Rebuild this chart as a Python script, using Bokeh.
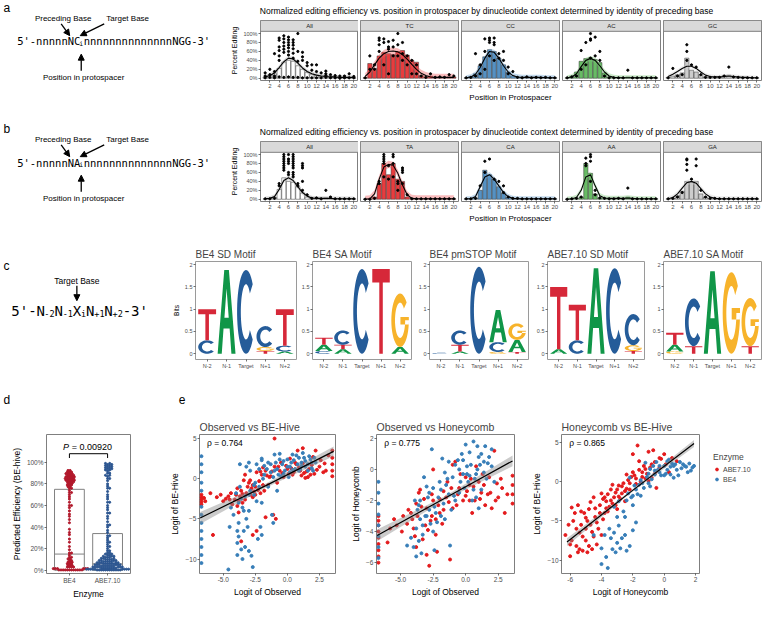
import numpy as np
from bokeh.plotting import figure
from bokeh.layouts import row, column
from bokeh.models import Range1d, FixedTicker, Arrow, NormalHead, Legend, LegendItem
from bokeh.core.properties import value
from bokeh.embed import file_html
from bokeh.resources import INLINE

FONT = "Liberation Sans"
MONO = "DejaVu Sans Mono"
BORDER = "#7F7F7F"
TICKC = "#4D4D4D"
RED = "#E41A1C"
BLUE = "#377EB8"

# ======================= DATA =======================
POSITIONS = list(range(1, 21))
POS_TICKS = list(range(2, 21, 2))
PCT_TICKS = [0, 20, 40, 60, 80, 100]
FACET_TITLE = ("Normalized editing efficiency vs. position in protospacer by dinucleotide "
               "context determined by identity of preceding base")

A_LABELS = ["All", "TC", "CC", "AC", "GC"]
B_LABELS = ["All", "TA", "CA", "AA", "GA"]
FACET_FILL = ["#FFFFFF", "#E41A1C", "#377EB8", "#4DAF4A", "#C4C4C4"]
FACET_RIB = ["#A8A8A8", "#F0585A", "#6A9FD0", "#7CC87A", "#D0D0D0"]

# mean editing (%) per protospacer position 1..20
A_ALL_BAR = [3, 6, 10, 22, 36, 40, 38, 28, 20, 13, 9, 7, 5, 6, 4, 3, 2, 2, 2, 1]
A_TC_BAR = [1, 33, 22, 50, 58, 55, 53, 60, 62, 52, 40, 36, 6, 3, 5, 2, 3, 2, 3, 3]
A_CC_BAR = [1, 4, 10, 28, 48, 64, 60, 45, 30, 14, 5, 3, 2, 3, 2, 2, 2, 2, 1, 1]
A_AC_BAR = [1, 5, 14, 38, 44, 46, 42, 35, 12, 3, 2, 2, 1, 3, 2, 1, 1, 1, 1, 1]
A_GC_BAR = [2, 5, 8, 12, 45, 18, 14, 8, 3, 3, 3, 3, 6, 7, 4, 3, 2, 2, 1, 1]
# smoothed fit (%) per position
A_ALL_FIT = [3, 6, 12, 24, 37, 45, 43, 34, 23, 15, 10, 7, 5, 4, 3, 3, 2, 2, 2, 2]
A_TC_FIT = [4, 14, 30, 45, 55, 60, 61, 59, 53, 43, 31, 20, 11, 6, 3, 2, 2, 2, 2, 2]
A_CC_FIT = [1, 3, 9, 24, 45, 60, 58, 45, 28, 14, 6, 3, 2, 2, 2, 2, 2, 1, 1, 1]
A_AC_FIT = [1, 3, 10, 26, 40, 44, 40, 28, 14, 5, 2, 1, 1, 1, 1, 1, 1, 1, 1, 1]
A_GC_FIT = [4, 9, 15, 22, 27, 27, 22, 14, 7, 4, 3, 3, 4, 5, 4, 3, 2, 2, 1, 1]
A_HW = [5, 8, 6, 6, 5]
# individual observations (%) per position
A_ALL_PTS = [[1, 5, 12], [2, 8, 20], [1, 5, 15, 55], [3, 40, 50, 62, 70, 85, 90], [2, 58, 65, 72, 80, 88, 95],
             [3, 52, 60, 68, 74, 80, 86, 92], [2, 45, 56, 66, 74, 80, 86], [2, 38, 60, 100], [1, 40, 48, 58],
             [1, 28, 35], [1, 18, 30], [1, 15, 30], [1, 12], [2, 6, 10, 16], [1, 8], [1, 6], [0, 5], [1, 5], [1, 10], [1, 4]]
A_TC_PTS = [[1], [20, 50], [20, 30], [60, 75, 85, 90], [30, 80, 88], [10, 65, 70, 82], [50, 70, 85], [50, 75, 100],
            [40, 55, 80], [30, 50], [10, 40], [10, 30], [5], [2], [10], [2], [3], [2], [8], [5]]
A_CC_PTS = [[1], [2], [5, 55], [10, 30], [20, 60, 88], [50, 80, 85, 90], [40, 75, 80, 90], [45, 55], [40, 60],
            [10, 25], [15], [2], [1], [3], [1], [2], [1], [2], [1], [1]]
A_AC_PTS = [[1], [3], [5], [20, 62], [30, 80], [45, 85, 88, 100], [50, 92], [40, 60], [5], [1], [1], [1], [1],
            [18], [1], [1], [1], [1], [1], [1]]
A_GC_PTS = [[1], [22], [5], [8], [40, 60, 75], [30], [25], [8], [2], [2], [2], [2], [5], [25], [3], [2], [1],
            [1], [1], [1]]

B_ALL_BAR = [1, 2, 4, 22, 48, 40, 38, 28, 14, 5, 3, 3, 2, 3, 2, 1, 1, 1, 1, 1]
B_TA_BAR = [0, 1, 5, 35, 80, 55, 80, 45, 40, 5, 2, 1, 1, 1, 1, 1, 1, 1, 1, 1]
B_CA_BAR = [1, 1, 3, 20, 65, 55, 45, 28, 14, 4, 2, 2, 1, 1, 1, 1, 1, 1, 1, 1]
B_AA_BAR = [0, 1, 2, 5, 80, 58, 12, 3, 2, 2, 1, 2, 1, 5, 1, 1, 1, 1, 1, 1]
B_GA_BAR = [1, 2, 8, 18, 40, 38, 40, 12, 5, 2, 2, 1, 1, 1, 1, 1, 1, 1, 1, 1]
B_ALL_FIT = [1, 2, 6, 22, 42, 48, 42, 28, 15, 7, 3, 2, 2, 2, 2, 1, 1, 1, 1, 1]
B_TA_FIT = [0, 1, 12, 45, 72, 78, 76, 58, 32, 10, 2, 1, 1, 1, 1, 1, 1, 1, 1, 1]
B_CA_FIT = [1, 1, 6, 28, 50, 55, 45, 30, 15, 6, 2, 1, 1, 1, 1, 1, 1, 1, 1, 1]
B_AA_FIT = [0, 1, 4, 20, 50, 55, 30, 8, 3, 2, 2, 2, 2, 3, 2, 1, 1, 1, 1, 1]
B_GA_FIT = [1, 4, 12, 25, 37, 40, 36, 24, 12, 5, 2, 1, 1, 1, 1, 1, 1, 1, 1, 1]
B_HW = [5, 8, 6, 6, 6]
B_ALL_PTS = [[1], [1], [2], [30, 35], [65, 70, 75, 80, 85, 90, 95, 100], [55, 60, 80, 85, 90, 100],
             [50, 55, 60, 70, 75, 80, 85, 90, 95, 100], [30, 35], [20, 40, 70, 75, 80], [10], [2], [3], [1], [20],
             [5], [1], [1], [1], [1], [1]]
B_TA_PTS = [[0], [0], [2], [35, 40], [50, 80, 85, 90, 95, 100], [45, 75], [50, 80, 95, 100], [20, 35, 40],
            [35, 60, 65, 70], [10], [1], [1], [1], [1], [1], [1], [1], [1], [1], [1]]
B_CA_PTS = [[1], [1], [2], [30], [60, 85], [90], [45], [40], [15, 30], [5], [2], [2], [1], [1], [1], [1], [1],
            [1], [1], [1]]
B_AA_PTS = [[0], [1], [2], [5], [75, 80, 92], [40, 85, 95, 100], [10, 20], [3], [2], [1], [1], [2], [1], [25],
            [1], [1], [1], [1], [1], [1]]
B_GA_PTS = [[1], [2], [5], [15], [65, 78, 88, 90], [45], [75, 90], [20], [5], [2], [2], [1], [1], [1], [1], [1],
            [1], [1], [1], [1]]

# sequence logos (bits), stacks bottom -> top
LOGO_TITLES = ["BE4 SD Motif", "BE4 SA Motif", "BE4 pmSTOP Motif", "ABE7.10 SD Motif", "ABE7.10 SA Motif"]
LOGO_POS_LABELS = ["N-2", "N-1", "Target", "N+1", "N+2"]
LOGO_BE4_SD = [[("C", 0.30), ("T", 0.70)], [("A", 1.88)], [("C", 1.88)],
               [("T", 0.06), ("G", 0.09), ("C", 0.47)], [("A", 0.05), ("C", 0.13), ("T", 0.82)]]
LOGO_BE4_SA = [[("C", 0.06), ("A", 0.14), ("T", 0.16)], [("A", 0.10), ("T", 0.10), ("C", 0.32)], [("C", 1.90)],
               [("T", 1.90)], [("A", 0.15), ("G", 1.20)]]
LOGO_BE4_PM = [[("C", 0.02)], [("A", 0.05), ("T", 0.15), ("C", 0.32)], [("C", 1.95)],
               [("G", 0.04), ("C", 0.22), ("A", 0.72)], [("T", 0.04), ("A", 0.27), ("G", 0.37)]]
LOGO_ABE_SD = [[("A", 0.10), ("T", 1.40)], [("C", 0.30), ("T", 0.80)], [("A", 1.92)], [("C", 1.92)],
               [("T", 0.06), ("G", 0.13), ("C", 0.70)]]
LOGO_ABE_SA = [[("G", 0.05), ("A", 0.15), ("T", 0.27)], [("T", 0.17), ("C", 1.07)], [("A", 1.85)],
               [("G", 1.83)], [("T", 0.17), ("G", 1.08)]]
LETTER_COLORS = {"A": "#109648", "C": "#255C99", "G": "#F7B32B", "T": "#D62839"}

# panel d: predicted efficiency (%), value levels and counts of guides
D_ENZYMES = ["BE4", "ABE7.10"]
D_Q1 = [0, 0]
D_MEDIAN = [15, 6]
D_Q3 = [75, 34]
D_BE4_LEVELS = [0.3, 1.5, 3, 4.5, 6, 7.5, 9, 10.5, 12, 14, 16, 19, 22, 26, 29, 33, 35, 38, 44, 47, 50, 52, 55, 58,
                60, 63, 66, 68, 70, 72, 74, 76, 77.5, 79, 80.5, 82, 83.5, 85, 86.5, 88, 89.5, 91, 92.5]
D_BE4_COUNTS = [12, 6, 4, 3, 3, 3, 2, 2, 2, 1, 2, 1, 1, 1, 1, 1, 1, 1, 1, 1, 1, 1, 1, 1,
                2, 1, 1, 1, 1, 2, 1, 2, 2, 3, 3, 4, 5, 5, 5, 4, 4, 3, 2]
D_ABE_LEVELS = [0.3, 1, 2, 3, 4, 5, 6, 7, 8, 9, 10, 11, 12, 13, 14, 15, 16, 18, 20, 22, 24, 26, 28, 30, 32, 35,
                37, 40, 42, 45, 48, 50, 53, 56, 58, 60, 63, 66, 68, 70, 73, 76, 78, 80, 83, 85, 87, 88, 90, 92,
                93, 94, 95, 96, 97, 98, 99]
D_ABE_COUNTS = [12, 9, 8, 7, 7, 6, 6, 5, 5, 4, 4, 3, 3, 3, 2, 2, 2, 2, 1, 2, 1, 2, 1, 1, 2, 1,
                1, 1, 2, 1, 1, 1, 2, 1, 1, 1, 2, 1, 1, 1, 1, 2, 1, 1, 1, 2, 1, 2, 2, 1,
                2, 2, 2, 2, 2, 2, 2]
D_PVALUE = "= 0.00920"

# panel e: (x, y) logits
E1_ABE = [(-6.7, -2.0), (-6.7, -2.3), (-6.7, -2.6), (-6.7, -2.9), (-6.7, -3.2), (-6.5, -2.4), (-6.4, -2.8),
          (-5.8, -7.0), (-5.5, -2.3), (-5.0, -2.8), (-4.8, -2.5), (-4.5, -2.6), (-4.3, -3.2), (-4.0, -2.0),
          (-3.9, -1.2), (-3.8, -2.8), (-3.6, -1.5), (-3.5, -3.0), (-3.4, -0.2), (-3.3, 0.5), (-3.2, -1.8),
          (-3.0, -0.5), (-2.9, -2.0), (-2.8, -1.2), (-2.7, -2.3), (-2.6, -1.6), (-2.5, -1.0), (-2.4, 0.8),
          (-2.2, -0.3), (-2.1, -1.8), (-2.0, 0.5), (-1.9, -0.8), (-1.8, -1.5), (-1.7, 1.0), (-1.5, -0.8),
          (-1.4, 0.2), (-1.3, 0.3), (-1.0, 5.0), (-1.0, 1.5), (-0.8, -0.5), (-0.6, 1.0), (-0.5, 2.0),
          (-0.3, 0.2), (-0.1, 1.6), (0.0, 1.2), (0.2, 2.5), (0.4, 0.5), (0.5, 0.8), (0.7, 1.8), (0.8, 3.5),
          (1.0, 1.0), (1.1, 0.4), (1.2, 3.8), (1.4, 0.1), (1.5, 0.9), (1.7, 1.2), (1.8, 0.5), (2.0, 2.7),
          (2.2, 3.5), (2.5, 1.5), (2.8, 0.8), (3.0, 1.0), (3.5, 3.5), (3.5, 2.6), (3.5, 1.8), (3.5, 1.0),
          (3.5, 0.3), (-2.7, -7.0), (-1.7, -4.8), (-3.8, -4.2), (-1.1, -4.5), (-0.9, -5.0),
          (-4.6, -2.2), (-4.4, -1.8), (-4.1, -2.6), (-3.9, -3.4), (-3.7, -2.2), (-3.5, -1.9), (-3.3, -2.6),
          (-3.1, -1.0), (-2.9, -0.2), (-2.7, -0.8), (-2.5, -2.0), (-2.3, -1.4), (-2.1, 0.9), (-1.9, 1.4),
          (-1.6, 0.4), (-1.2, 0.9), (-0.7, 1.5), (-0.4, 0.7), (0.1, 0.6), (0.3, 1.3), (0.6, 2.0), (0.9, 1.4),
          (1.2, 1.9), (1.3, 0.7), (1.6, 0.2), (1.9, 1.7), (2.1, 0.6), (2.3, 1.1), (2.6, 2.3), (2.9, 1.9),
          (3.2, 2.9), (-5.2, -2.0), (-6.0, -1.8), (-3.6, -7.8), (-2.4, -6.5)]
E1_BE4 = [(-6.7, 2.8), (-6.7, 1.8), (-6.7, 0.8), (-6.7, -0.5), (-6.7, -1.5), (-6.7, -3.5), (-6.7, -4.5),
          (-6.7, -5.5), (-6.7, -6.5), (-6.7, -7.5), (-6.7, -8.5), (-6.7, -9.5), (-6.7, -10.5),
          (-4.6, -11.3), (-4.5, -6.0), (-4.2, -4.5), (-4.0, -1.8), (-3.9, -8.0), (-3.9, -9.5), (-3.8, -5.5),
          (-3.8, -3.0), (-3.7, -1.0), (-3.7, 1.8), (-3.6, -2.5), (-3.5, -10.0), (-3.4, -6.5), (-3.4, -4.0),
          (-3.3, -8.5), (-3.2, -5.0), (-3.2, 1.5), (-3.0, -4.0), (-3.0, -2.0), (-2.9, -1.5), (-2.9, 1.0),
          (-2.7, -11.0), (-2.6, -2.0), (-2.5, -0.5), (-2.4, 1.8), (-2.3, -7.5), (-2.2, -1.0), (-2.1, -6.0),
          (-2.0, -3.0), (-2.0, 2.3), (-1.9, 0.0), (-1.8, 0.5), (-1.6, 1.2), (-1.5, -1.0), (-1.3, 0.8),
          (-1.2, -4.5), (-1.1, -5.5), (-1.0, 1.0), (-0.9, 2.0), (-0.8, -1.5), (-0.7, 0.5), (-0.5, 0.3),
          (-0.4, 1.8), (-0.3, 2.2), (-0.2, 1.0), (0.0, 1.5), (0.1, 0.2), (0.2, 0.8), (0.3, 2.0), (0.5, 2.3),
          (0.6, 1.2), (0.8, 1.8), (0.9, 2.6), (1.0, 1.2), (1.1, 2.0), (1.3, 2.6), (1.4, 1.5), (1.6, 1.8),
          (1.7, 2.8), (1.8, 2.4), (1.9, 1.3), (2.0, 1.0), (2.2, 2.0), (-3.0, 2.0), (-2.0, 2.5), (-1.0, 3.0),
          (-0.6, 3.1), (0.4, 3.0), (1.2, 3.2),
          (-3.9, -6.5), (-3.8, -7.2), (-3.6, -8.8), (-3.5, -3.6), (-3.3, -2.2), (-3.1, -6.0), (-2.8, -9.6),
          (-2.6, -0.8), (-2.4, -2.8), (-2.2, 1.2), (-1.8, 1.6), (-1.5, 2.0), (-1.3, 1.8), (-1.1, 0.2),
          (-0.8, 1.2), (-0.6, 2.4), (-0.3, 0.6), (0.0, 2.4), (0.2, 1.5), (0.4, 1.1), (0.7, 2.9), (0.9, 1.0),
          (1.1, 1.6), (1.4, 2.2), (1.6, 1.0), (1.9, 2.0), (2.1, 2.6), (-4.4, -3.6), (-3.0, -9.0), (-2.0, -7.0)]
E2_ABE = [(-6.7, -3.0), (-6.7, -3.3), (-6.7, -3.6), (-6.7, -4.0), (-6.7, -4.4), (-6.7, -4.8), (-6.7, -5.2),
          (-6.7, -5.6), (-6.7, -6.0), (-6.0, -4.7), (-5.8, -3.8), (-5.3, -3.6), (-4.8, -3.0), (-4.5, -3.5),
          (-4.2, -2.8), (-4.0, -3.8), (-3.8, -2.2), (-3.6, -1.5), (-3.5, -1.3), (-3.3, -4.5), (-3.1, -3.6),
          (-3.0, -2.5), (-3.0, -5.5), (-2.8, -6.2), (-2.7, -3.3), (-2.6, -3.0), (-2.5, -2.0), (-2.5, 0.0),
          (-2.3, -4.2), (-2.1, -2.3), (-2.0, -2.8), (-1.8, -3.5), (-1.7, -1.4), (-1.5, -1.8), (-1.3, -2.1),
          (-1.2, -5.8), (-1.0, -2.5), (-1.0, 0.3), (-0.8, 0.5), (-0.6, -1.6), (-0.5, -1.2), (-0.2, -2.0),
          (0.0, -0.5), (0.1, -1.4), (0.3, -1.0), (0.3, -2.0), (0.5, -2.8), (0.6, -1.1), (0.8, 0.2),
          (1.0, -0.8), (1.2, -1.5), (1.3, -0.3), (1.5, -2.3), (1.7, -1.6), (1.8, -0.5), (2.0, -2.5),
          (2.2, 1.2), (2.4, -0.9), (2.5, -1.8), (2.8, -1.2), (3.0, -2.8), (3.6, -0.4), (3.6, -1.0),
          (3.6, -1.6), (3.6, -2.2),
          (-5.5, -3.2), (-4.9, -4.0), (-4.4, -2.6), (-4.1, -3.2), (-3.9, -4.3), (-3.7, -3.0), (-3.4, -2.4),
          (-3.2, -1.9), (-2.9, -3.9), (-2.6, -1.6), (-2.3, -3.2), (-2.0, -1.9), (-1.7, -2.6), (-1.4, -0.8),
          (-1.1, -1.2), (-0.7, -2.3), (-0.4, -0.3), (0.0, -1.7), (0.4, -0.6), (0.7, -2.0), (1.1, -1.9),
          (1.4, -1.0), (1.9, -1.5), (2.3, -2.0), (2.7, -0.6), (3.2, -1.6), (-3.8, -5.0), (-2.2, -5.3)]
E2_BE4 = [(-6.7, -0.8), (-6.7, -1.5), (-6.7, -2.2), (-6.7, -2.9), (-6.7, -3.6), (-6.7, -4.3), (-6.7, -5.0),
          (-6.7, -5.7), (-4.5, -4.9), (-4.0, -5.0), (-3.8, -3.8), (-3.7, -2.6), (-3.6, -2.3), (-3.5, -3.2),
          (-3.4, -5.4), (-3.3, -4.2), (-3.2, -0.5), (-3.1, -3.0), (-3.0, -3.0), (-2.9, -1.8), (-2.8, -1.5),
          (-2.6, 1.3), (-2.5, -4.0), (-2.4, -2.4), (-2.3, -2.8), (-2.1, -1.8), (-2.0, -0.8), (-1.9, -3.0),
          (-1.8, 0.7), (-1.7, -2.2), (-1.6, -3.2), (-1.5, -1.0), (-1.4, -0.6), (-1.2, -4.9), (-1.0, -0.5),
          (-0.9, -1.7), (-0.8, -2.0), (-0.6, 0.6), (-0.5, 0.0), (-0.4, -0.8), (-0.3, 1.0), (-0.2, -0.3),
          (-0.1, -1.2), (0.0, 1.6), (0.1, 0.2), (0.2, -0.8), (0.3, -0.4), (0.4, 0.3), (0.5, -2.0), (0.6, 1.8),
          (0.7, -0.6), (0.8, -0.3), (1.0, 0.8), (1.1, 0.3), (1.2, -1.3), (1.4, 0.5), (1.5, 1.5), (1.6, -0.6),
          (1.8, 0.8), (2.0, 0.2), (2.2, -0.8), (1.0, -2.5), (-2.7, -3.5), (-1.3, 0.5), (-3.5, -2.0), (0.9, 1.5),
          (-4.2, -4.4), (-3.9, -2.0), (-3.6, -4.6), (-3.3, -3.6), (-3.0, -1.1), (-2.8, -2.6), (-2.5, -1.2),
          (-2.2, -3.4), (-1.9, -1.3), (-1.6, -0.2), (-1.3, -1.6), (-1.1, -2.6), (-0.8, 0.3), (-0.5, -1.5),
          (-0.2, 0.6), (0.1, -0.3), (0.3, 1.1), (0.6, -1.3), (0.9, 0.0), (1.2, 1.0), (1.4, -0.2), (1.7, 0.4),
          (2.0, 1.3), (-2.4, -5.2), (-3.8, -5.6), (0.8, -1.8)]
E3_ABE = [(-6.3, -6.8), (-6.0, -9.5), (-5.9, -3.3), (-5.8, -5.0), (-5.7, -4.0), (-5.6, -8.2), (-5.5, -3.0),
          (-5.4, -6.5), (-5.3, -5.5), (-5.2, -8.8), (-5.1, -4.0), (-5.0, -7.5), (-5.0, -6.0), (-4.9, -9.0),
          (-4.8, -3.5), (-4.7, -5.5), (-4.6, -8.6), (-4.5, -2.0), (-4.5, -7.0), (-4.4, -4.5), (-4.3, -8.0),
          (-4.2, -6.0), (-4.1, -3.0), (-4.0, -1.5), (-3.9, -4.8), (-3.8, -4.0), (-3.8, -2.0), (-3.7, -2.5),
          (-3.6, -3.8), (-3.5, -3.2), (-3.4, -1.0), (-3.3, -2.8), (-3.2, -2.0), (-3.1, -1.4), (-3.0, -3.5),
          (-3.0, -1.0), (-2.9, -0.5), (-2.8, -2.2), (-2.7, -1.5), (-2.6, -0.2), (-2.5, -2.5), (-2.4, -0.9),
          (-2.3, 0.2), (-2.2, -1.0), (-2.1, 0.6), (-2.0, 3.5), (-1.9, 0.8), (-1.8, -0.3), (-1.7, 4.6),
          (-1.6, 1.5), (-1.5, 0.0), (-1.4, 1.2), (-1.3, 2.0), (-1.2, 0.4), (-1.1, 1.0), (-1.0, 3.8),
          (-0.9, 1.8), (-0.8, 0.5), (-0.7, 4.0), (-0.6, 2.5), (-0.5, -0.8), (-0.4, 1.4), (-0.3, 1.8),
          (-0.2, 2.9), (0.0, 3.5), (0.3, 1.2), (0.5, 3.0), (0.8, 2.6),
          (-6.1, -5.5), (-5.9, -7.5), (-5.6, -6.0), (-5.5, -9.0), (-5.3, -3.8), (-5.2, -7.0), (-5.0, -4.6),
          (-4.8, -8.2), (-4.7, -2.6), (-4.6, -6.4), (-4.4, -3.4), (-4.3, -5.2), (-4.1, -4.0), (-4.0, -6.8),
          (-3.9, -2.2), (-3.7, -3.4), (-3.6, -1.6), (-3.4, -2.4), (-3.3, -0.4), (-3.1, -3.0), (-2.9, -1.9),
          (-2.7, -0.6), (-2.5, -1.2), (-2.4, 0.9), (-2.2, -0.2), (-2.0, 1.2), (-1.8, 0.4), (-1.6, 2.6),
          (-1.4, 0.6), (-1.2, 1.6), (-1.0, 0.1), (-0.8, 2.2), (-0.6, 1.0), (-0.3, 3.0), (0.1, 2.2),
          (-5.4, -8.6), (-4.9, -5.0), (-6.0, -8.0)]
E3_BE4 = [(-4.0, -10.5), (-3.6, -11.0), (-3.3, -8.6), (-3.0, -7.8), (-2.8, -8.5), (-2.5, -6.8), (-2.2, -8.2),
          (-3.5, -6.0), (-3.2, -6.5), (-2.5, -4.5), (-2.0, -3.0), (-1.8, -5.2), (-4.0, -8.5), (-3.8, -6.8),
          (-3.4, -7.2), (-2.9, -2.5), (-2.3, -1.5), (-1.8, -1.0), (-1.5, 0.2), (-1.3, -0.8), (-1.0, 1.0),
          (-0.8, 0.3), (-0.5, 2.5), (-0.4, 1.5), (-0.2, 0.8), (0.0, 2.0), (0.2, 1.5), (0.5, 2.3), (0.6, 0.5),
          (0.8, 1.5), (1.0, 2.5), (1.3, 2.0), (1.5, 1.2), (1.8, 1.8), (-1.0, -0.2), (-0.7, 2.0), (0.3, 2.8),
          (-2.6, -3.8), (-3.0, -4.5), (-4.5, -6.8), (-2.2, 0.5), (-1.2, 2.4), (-0.9, 1.6), (-0.6, 0.9),
          (-0.3, 1.2), (0.1, 1.0), (0.4, 1.9), (0.7, 2.2), (1.1, 1.7), (1.6, 2.3), (-1.6, -0.4), (-2.0, -1.8),
          (-3.7, -9.6), (-3.1, -9.0), (-2.7, -7.2), (-2.4, -8.8), (-2.0, -6.2), (-2.9, -5.6), (-2.1, -2.0),
          (-1.9, -0.5), (-1.7, -1.6), (-1.4, -0.2), (-1.1, 0.6), (-0.9, -0.6), (-0.6, 1.4), (-0.3, 2.0),
          (0.0, 0.8), (0.2, 2.6), (0.4, 0.9), (0.6, 2.0), (0.9, 0.8), (1.2, 2.2), (1.4, 1.9), (1.7, 1.4),
          (1.9, 2.0), (-2.4, -2.4), (-1.5, -1.8), (-3.2, -3.2)]
# regression fits: x, y and half width of confidence band
E1_FIT_X = [-6.8, -1.6, 3.6]
E1_FIT_Y = [-4.9, -0.8, 3.4]
E1_FIT_SE = [0.75, 0.25, 0.6]
E2_FIT_X = [-6.8, -1.6, 3.6]
E2_FIT_Y = [-4.25, -1.85, 0.55]
E2_FIT_SE = [0.38, 0.12, 0.35]
E3_FIT_X = [-6.2, -2.2, 1.9]
E3_FIT_Y = [-7.7, -1.4, 4.85]
E3_FIT_SE = [0.5, 0.15, 0.45]
E_RHO = ["ρ = 0.764", "ρ = 0.775", "ρ = 0.865"]
E_ENZYMES = ["ABE7.10", "BE4"]

# ======================= LAYOUT HELPERS =======================
SX = 763.0 / 779.0
SY = 610.0 / 626.0


def sxp(v):
    return int(round(v * SX))


def syp(v):
    return int(round(v * SY))


def make_fig(box, frame, xr, yr, xaxis=False, yaxis=False):
    L, T, R, B = box
    fl, ft, fr, fb = frame
    p = figure(width=sxp(R) - sxp(L), height=syp(B) - syp(T),
               x_range=Range1d(xr[0], xr[1]), y_range=Range1d(yr[0], yr[1]),
               output_backend="svg", toolbar_location=None,
               x_axis_location="below" if xaxis else None,
               y_axis_location="left" if yaxis else None,
               min_border_left=sxp(fl) - sxp(L), min_border_right=sxp(R) - sxp(fr),
               min_border_top=syp(ft) - syp(T), min_border_bottom=syp(B) - syp(fb))
    for g in p.grid:
        g.visible = False
    p.outline_line_color = None
    p.background_fill_color = "white"
    p.border_fill_color = "white"

    def conv(px, py):
        x = xr[0] + (px - fl) / float(fr - fl) * (xr[1] - xr[0])
        y = yr[1] - (py - ft) / float(fb - ft) * (yr[1] - yr[0])
        return x, y
    return p, conv


def text_fig(box):
    L, T, R, B = box
    p, _ = make_fig(box, box, (L, R), (B, T))
    return p


def style_axis(ax, size, label_size=8.5):
    ax.axis_line_color = None
    ax.major_tick_line_color = "#333333"
    ax.major_tick_line_width = 0.7
    ax.major_tick_out = 2
    ax.major_tick_in = 0
    ax.minor_tick_line_color = None
    ax.major_label_text_font = FONT
    ax.major_label_text_font_size = "%spx" % size
    ax.major_label_text_color = TICKC
    ax.major_label_standoff = 1
    ax.axis_label_text_font = FONT
    ax.axis_label_text_font_size = "%spx" % label_size
    ax.axis_label_text_font_style = "normal"
    ax.axis_label_text_color = "black"
    ax.axis_label_standoff = 2


def txt(p, x, y, s, size, font=FONT, align="left", baseline="middle", style="normal", color="black", angle=0.0):
    p.text(x=[x], y=[y], text=[s], text_font=value(font), text_font_size=value("%spx" % size),
           text_align=align, text_baseline=baseline, text_font_style=style, text_color=color, angle=angle)


def arrow(p, x0, y0, x1, y1):
    p.add_layout(Arrow(end=NormalHead(size=6, fill_color="black", line_color="black", line_width=1),
                       x_start=x0, y_start=y0, x_end=x1, y_end=y1, line_width=1.3, line_color="black"))


# ======================= ROWS a / b =======================
FIG_X = [232, 366, 469, 572, 675, 779]
FRAME_X = [(265, 365), (368, 468), (471, 571), (574, 674), (677, 777)]


def seq_diagram(y0, y1, letter, base):
    p = text_fig((0, y0, 232, y1))
    txt(p, 3, y0 + 8, letter, 12)
    cw = 0.602 * 10.5
    s1 = "5'-nnnnnN" + base
    xs0 = 17
    n_center = xs0 + (len(s1) - 1.5) * cw
    sub_x = xs0 + len(s1) * cw + 0.3
    txt(p, 64, y0 + 18, "Preceding Base", 8, align="center")
    txt(p, 130, y0 + 18, "Target Base", 8, align="center")
    arrow(p, 62, y0 + 24, n_center, y0 + 36)
    arrow(p, 106, y0 + 24, sub_x + 1, y0 + 36)
    txt(p, xs0, y0 + 42, s1, 10.5, font=MONO)
    txt(p, sub_x, y0 + 45, "i", 6.5, font=MONO)
    txt(p, sub_x + 0.602 * 6.5 + 0.6, y0 + 42, "nnnnnnnnnnnnnnNGG-3'", 10.5, font=MONO)
    arrow(p, sub_x + 2, y0 + 72, sub_x + 2, y0 + 55)
    txt(p, 85, y0 + 79, "Position in protospacer", 8, align="center")
    return p


def facet_panel(i, y0, y1, name, bars, fit, hw, pts):
    fl, fr = FRAME_X[i]
    ft, sb, fb = y0 + 21, y0 + 32, y0 + 82
    ytop = 105 + (sb - ft) * 110.0 / (fb - sb)
    p, cv = make_fig((FIG_X[i], y0 + 20, FIG_X[i + 1], y1), (fl, ft, fr, fb), (0, 21), (-5, ytop), True, i == 0)
    p.outline_line_color = BORDER
    p.vbar(x=POSITIONS, top=bars, bottom=0, width=0.9, fill_color=FACET_FILL[i], fill_alpha=0.85,
           line_color="#333333", line_width=0.5)
    lo = [max(f - hw, 0) for f in fit]
    hi = [f + hw for f in fit]
    p.varea(x=POSITIONS, y1=lo, y2=hi, fill_color=FACET_RIB[i], fill_alpha=0.4)
    xs = [k + 1 for k, vs in enumerate(pts) for v in vs]
    ys = [v for vs in pts for v in vs]
    p.scatter(xs, ys, size=2.2, color="black")
    p.line(POSITIONS, fit, line_color="black", line_width=1.1)
    p.quad(left=[0], right=[21], bottom=[105], top=[ytop], fill_color="#D9D9D9", line_color=BORDER, line_width=1)
    txt(p, 10.5, (105 + ytop) / 2.0, name, 6, align="center", color="#1A1A1A")
    ax = p.xaxis[0]
    ax.ticker = FixedTicker(ticks=POS_TICKS)
    style_axis(ax, 6, 8)
    if i == 2:
        ax.axis_label = "Position in Protospacer"
    if i == 0:
        ay = p.yaxis[0]
        ay.ticker = FixedTicker(ticks=PCT_TICKS)
        ay.major_label_overrides = {t: "%d%%" % t for t in PCT_TICKS}
        style_axis(ay, 5.5, 7)
        ay.axis_label = "Percent Editing"
    return p


def facet_band(y0, y1, letter, base, labels, bars_l, fit_l, hws, pts_l):
    diag = seq_diagram(y0, y1, letter, base)
    tp = text_fig((232, y0, 779, y0 + 20))
    txt(tp, 265, y0 + 11, FACET_TITLE, 8.5)
    panels = [facet_panel(i, y0, y1, labels[i], bars_l[i], fit_l[i], hws[i], pts_l[i]) for i in range(5)]
    return row(diag, column(tp, row(*panels)))


bandA = facet_band(0, 124, "a", "C", A_LABELS,
                   [A_ALL_BAR, A_TC_BAR, A_CC_BAR, A_AC_BAR, A_GC_BAR],
                   [A_ALL_FIT, A_TC_FIT, A_CC_FIT, A_AC_FIT, A_GC_FIT], A_HW,
                   [A_ALL_PTS, A_TC_PTS, A_CC_PTS, A_AC_PTS, A_GC_PTS])
bandB = facet_band(124, 250, "b", "A", B_LABELS,
                   [B_ALL_BAR, B_TA_BAR, B_CA_BAR, B_AA_BAR, B_GA_BAR],
                   [B_ALL_FIT, B_TA_FIT, B_CA_FIT, B_AA_FIT, B_GA_FIT], B_HW,
                   [B_ALL_PTS, B_TA_PTS, B_CA_PTS, B_AA_PTS, B_GA_PTS])

# ======================= ROW c =======================


def _arc(a0, a1, rxo, ryo, rxi, ryi, n=40):
    t = np.linspace(a0, a1, n)
    xo = list(0.5 + rxo * np.cos(t))
    yo = list(0.5 + ryo * np.sin(t))
    xi = list(0.5 + rxi * np.cos(t[::-1]))
    yi = list(0.5 + ryi * np.sin(t[::-1]))
    return xo + xi, yo + yi


def letter_shape(ch):
    if ch == "T":
        return [[([0, 1, 1, 0.6, 0.6, 0.4, 0.4, 0], [1, 1, 0.84, 0.84, 0, 0, 0.84, 0.84])]]
    if ch == "A":
        return [[([0, 0.37, 0.63, 1, 0.77, 0.67, 0.33, 0.23], [0, 1, 1, 0, 0, 0.3, 0.3, 0]),
                 ([0.38, 0.62, 0.5], [0.43, 0.43, 0.78])]]
    if ch == "C":
        return [[_arc(0.23 * np.pi, 1.77 * np.pi, 0.5, 0.5, 0.29, 0.33)]]
    return [[_arc(0.23 * np.pi, 2.0 * np.pi, 0.5, 0.5, 0.29, 0.33)],
            [([0.52, 1, 1, 0.52], [0.42, 0.42, 0.56, 0.56])]]


LOGO_FIG_X = [160, 304, 424, 543, 662, 779]
LOGO_FRAME_X = [(199, 302), (317, 420), (438, 539), (558, 658), (677, 777)]


def logo_panel(i, title, stacks):
    fl, fr = LOGO_FRAME_X[i]
    p, cv = make_fig((LOGO_FIG_X[i], 250, LOGO_FIG_X[i + 1], 395), (fl, 268, fr, 368), (0.4, 5.6), (-0.13, 2.07),
                     True, True)
    p.outline_line_color = "#9A9A9A"
    XS, YS, CS = [], [], []
    w = 0.92
    for k, stack in enumerate(stacks):
        xc = k + 1
        base = 0.0
        for ch, h in stack:
            polys_x, polys_y = [], []
            for poly in letter_shape(ch):
                rx, ry = [], []
                for (ux, uy) in poly:
                    rx.append([xc - w / 2 + u * w for u in ux])
                    ry.append([base + v * h for v in uy])
                polys_x.append(rx)
                polys_y.append(ry)
            XS.append(polys_x)
            YS.append(polys_y)
            CS.append(LETTER_COLORS[ch])
            base += h
    p.multi_polygons(xs=XS, ys=YS, fill_color=CS, line_color=None)
    p.title.text = title
    p.title.text_font = FONT
    p.title.text_font_size = "10px"
    p.title.text_font_style = "normal"
    p.title.align = "left"
    p.title.standoff = 3
    ax = p.xaxis[0]
    ax.ticker = FixedTicker(ticks=[1, 2, 3, 4, 5])
    ax.major_label_overrides = {k + 1: s for k, s in enumerate(LOGO_POS_LABELS)}
    style_axis(ax, 5.5)
    ay = p.yaxis[0]
    ay.ticker = FixedTicker(ticks=[0, 0.5, 1, 1.5, 2])
    ay.major_label_overrides = {0: "0", 0.5: "0.5", 1: "1", 1.5: "1.5", 2: "2"}
    style_axis(ay, 5.5, 6.5)
    if i == 0:
        ay.axis_label = "Bits"
    return p


diagC = text_fig((0, 250, 160, 395))
txt(diagC, 3, 256, "c", 12)
cwB, cwS = 0.602 * 14, 0.602 * 8.5
pieces = [("5'-N", 0), ("-2", 1), ("N", 0), ("-1", 1), ("X", 0), ("i", 1), ("N", 0), ("+1", 1), ("N", 0),
          ("+2", 1), ("-3'", 0)]
xcur = 11
x_center = None
for s, sub in pieces:
    if sub:
        txt(diagC, xcur, 327, s, 8.5, font=MONO)
        xcur += len(s) * cwS
    else:
        if s == "X":
            x_center = xcur + cwB / 2
        txt(diagC, xcur, 323, s, 14, font=MONO)
        xcur += len(s) * cwB
txt(diagC, x_center, 279, "Target Base", 8.5, align="center")
arrow(diagC, x_center, 286, x_center, 308)

LOGOS = [LOGO_BE4_SD, LOGO_BE4_SA, LOGO_BE4_PM, LOGO_ABE_SD, LOGO_ABE_SA]
bandC = row(diagC, *[logo_panel(i, LOGO_TITLES[i], LOGOS[i]) for i in range(5)])

# ======================= ROW d / e =======================
letters = text_fig((0, 395, 779, 420))
txt(letters, 3, 410, "d", 12)
txt(letters, 182, 410, "e", 12)

pD, cD = make_fig((0, 420, 170, 626), (47, 430, 133, 600), (0.4, 2.6), (-3, 125.8), True, True)
pD.outline_line_color = BORDER
bw = 0.39
pD.quad(left=[k + 1 - bw for k in range(2)], right=[k + 1 + bw for k in range(2)], bottom=D_Q1, top=D_Q3,
        fill_color="white", line_color="#808080", line_width=1)
pD.segment(x0=[k + 1 - bw for k in range(2)], x1=[k + 1 + bw for k in range(2)], y0=D_MEDIAN, y1=D_MEDIAN,
           line_color="#808080", line_width=1)

xpx = (sxp(133) - sxp(47)) / 2.2
ypx = (syp(600) - syp(430)) / 128.8


def swarm(vals, xc, dist=2.0, step=0.7):
    order = np.argsort(vals, kind="stable")
    placed = []
    out = [0.0] * len(vals)
    for idx in order:
        yv = vals[idx] * ypx
        near = [(ox, oy) for ox, oy in placed if abs(oy - yv) < dist]
        k = 0
        chosen = None
        while chosen is None:
            cands = [0.0] if k == 0 else [k * step, -k * step]
            for c in cands:
                if all((c - ox) ** 2 + (yv - oy) ** 2 >= dist * dist for ox, oy in near):
                    chosen = c
                    break
            k += 1
        placed.append((chosen, yv))
        out[idx] = xc + chosen / xpx
    return out


be4_vals = [float(v) for v in np.repeat(D_BE4_LEVELS, D_BE4_COUNTS)]
abe_vals = [float(v) for v in np.repeat(D_ABE_LEVELS, D_ABE_COUNTS)]
pD.scatter(swarm(be4_vals, 1), be4_vals, size=2.1, color="#B2182B")
pD.scatter(swarm(abe_vals, 2), abe_vals, size=2.1, color="#2B5590")
pD.line([1, 1, 2, 2], [104, 108, 108, 104], line_color="black", line_width=1)
px0 = cD(64, 447)[0]
txt(pD, px0, 114, "P", 9, style="italic")
txt(pD, px0 + 9 * 0.95 / xpx, 114, D_PVALUE, 9)
axd = pD.xaxis[0]
axd.ticker = FixedTicker(ticks=[1, 2])
axd.major_label_overrides = {1: D_ENZYMES[0], 2: D_ENZYMES[1]}
style_axis(axd, 6.5)
axd.axis_label = "Enzyme"
ayd = pD.yaxis[0]
ayd.ticker = FixedTicker(ticks=PCT_TICKS)
ayd.major_label_overrides = {t: "%d%%" % t for t in PCT_TICKS}
style_axis(ayd, 6.5)
ayd.axis_label = "Predicted Efficiency (BE-hive)"


def e_panel(box, frame, xr, yr, title, xticks, xlabels, yticks, ylabel, xlabel, abe, be4, fx, fy, fse, rho):
    p, cv = make_fig(box, frame, xr, yr, True, True)
    p.outline_line_color = BORDER
    p.title.text = title
    p.title.text_font = FONT
    p.title.text_font_size = "10.5px"
    p.title.text_font_style = "normal"
    p.title.align = "left"
    p.title.standoff = 4
    p.scatter([a[0] for a in abe], [a[1] for a in abe], size=3, color=RED)
    p.scatter([b[0] for b in be4], [b[1] for b in be4], size=3, color=BLUE)
    p.varea(x=fx, y1=[y - s for y, s in zip(fy, fse)], y2=[y + s for y, s in zip(fy, fse)],
            fill_color="#8C8C8C", fill_alpha=0.45)
    p.line(fx, fy, line_color="black", line_width=1.2)
    rx, ry = cv(frame[0] + 8, frame[1] + 9)
    txt(p, rx, ry, rho, 8.5)
    ax = p.xaxis[0]
    ax.ticker = FixedTicker(ticks=xticks)
    ax.major_label_overrides = dict(zip(xticks, xlabels))
    style_axis(ax, 6.5, 8.5)
    ax.axis_label = xlabel
    ay = p.yaxis[0]
    ay.ticker = FixedTicker(ticks=yticks)
    style_axis(ay, 6.5, 8.5)
    ay.axis_label = ylabel
    return p


pE1 = e_panel((170, 420, 355, 626), (198, 445, 342, 588), (-6.85, 3.75), (-11.8, 5.5),
              "Observed vs BE-Hive", [-5.0, -2.5, 0.0, 2.5], ["-5.0", "-2.5", "0.0", "2.5"],
              [-10, -5, 0, 5], "Logit of BE-Hive", "Logit of Observed", E1_ABE, E1_BE4,
              E1_FIT_X, E1_FIT_Y, E1_FIT_SE, E_RHO[0])
pE2 = e_panel((355, 420, 540, 626), (383, 445, 525, 588), (-6.85, 3.75), (-6.7, 2.25),
              "Observed vs Honeycomb", [-5.0, -2.5, 0.0, 2.5], ["-5.0", "-2.5", "0.0", "2.5"],
              [-6, -4, -2, 0, 2], "Logit of Honeycomb", "Logit of Observed", E2_ABE, E2_BE4,
              E2_FIT_X, E2_FIT_Y, E2_FIT_SE, E_RHO[1])
pE3 = e_panel((540, 420, 720, 626), (572, 445, 714, 588), (-6.55, 2.25), (-11.7, 6.0),
              "Honeycomb vs BE-Hive", [-6, -4, -2, 0, 2], ["-6", "-4", "-2", "0", "2"],
              [-10, -5, 0, 5], "Logit of BE-Hive", "Logit of Honeycomb", E3_ABE, E3_BE4,
              E3_FIT_X, E3_FIT_Y, E3_FIT_SE, E_RHO[2])

# legend as its own small plot; key renderers hold one real point each (outside this plot's view)
pL = text_fig((720, 420, 779, 626))
lr1 = pL.scatter(x=[E3_ABE[0][0]], y=[E3_ABE[0][1]], size=4, color=RED)
lr2 = pL.scatter(x=[E3_BE4[0][0]], y=[E3_BE4[0][1]], size=4, color=BLUE)
leg = Legend(items=[LegendItem(label=E_ENZYMES[0], renderers=[lr1], index=0),
                    LegendItem(label=E_ENZYMES[1], renderers=[lr2], index=0)],
             title="Enzyme", location=(sxp(730) - sxp(720) - 2, syp(626) - syp(534)))
leg.title_text_font = FONT
leg.title_text_font_size = "8.5px"
leg.title_text_font_style = "normal"
leg.label_text_font = FONT
leg.label_text_font_size = "7px"
leg.border_line_color = None
leg.background_fill_alpha = 0
leg.glyph_width = 7
leg.glyph_height = 8
leg.label_height = 8
leg.label_standoff = 3
leg.spacing = 2
leg.padding = 2
leg.margin = 0
leg.title_standoff = 3
pL.add_layout(leg)

bandDE = column(letters, row(pD, pE1, pE2, pE3, pL))

layout = column(bandA, bandB, bandC, bandDE)
open("out.html", "w").write(file_html(layout, INLINE))
